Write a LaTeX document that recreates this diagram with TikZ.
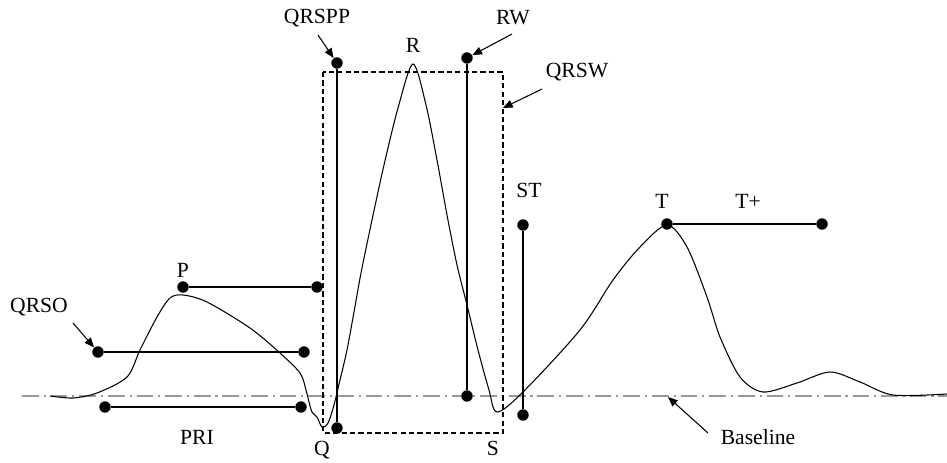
\documentclass[tikz,border=0pt]{standalone}
\usepackage{fontspec}
\setmainfont{Liberation Serif}
\usetikzlibrary{arrows.meta,positioning}

\begin{document}
\begin{tikzpicture}[x=0.02cm, y=-0.02cm, >={Triangle[length=5.5pt,width=4.5pt]},
    font=\fontsize{12.3}{14}\selectfont,
    dot/.style={circle, fill, inner sep=0pt, minimum size=6.5pt},
    seg/.style={line width=0.85pt},
    pointer/.style={->, line width=0.6pt},
    lbl/.style={inner sep=1pt}]
  \useasboundingbox (0,0) rectangle (947,463);

  % 基线
  \coordinate (bl0) at (22,396);
  \coordinate (bl1) at (947,396);
  \draw[gray!80, line width=0.7pt, dash pattern=on 9.5pt off 2.8pt on 1.2pt off 2.8pt] (bl0) -- (bl1);

  % QRS 框
  \draw[line width=0.6pt, dash pattern=on 3pt off 1.8pt] (323,72) rectangle (503,433);

  % 心电波形
  \draw[line width=0.6pt] plot[smooth, tension=0.5] coordinates {
    (50,396) (73,398) (97,393) (127,377) (140,350) (157,317) (170,298) (183,295)
    (207,302) (250,328) (280,353) (300,373) (306,390) (309,402) (312,412) (317,417)
    (322,427) (328,423) (334,405) (340,380) (347,350) (354,312) (361,273)
    (372,220) (384,165) (398,108) (413,64) (426,105) (437,160) (447,215)
    (457,265) (467,305) (478,350) (489,390) (497,412)
    (523,392) (580,330) (613,280) (640,247) (667,225) (687,247) (707,297)
    (720,337) (740,377) (763,392) (797,383) (830,372) (860,382) (893,395) (947,394)};

  % P 与 P-R
  \node[dot] (p1) at (183,287) {};
  \node[dot] (p2) at (317,287) {};
  \draw[seg] (p1) -- (p2);
  \node[lbl] (plbl) at (183,270) {P};

  \node[dot] (o1) at (98,352) {};
  \node[dot] (o2) at (304,352) {};
  \draw[seg] (o1) -- (o2);
  \node[lbl] (olbl) at (39,307) {QRSO};
  \coordinate (oarr) at (73,323);
  \draw[pointer] (oarr) -- (o1);

  \node[dot] (r1) at (105,407) {};
  \node[dot] (r2) at (301,407) {};
  \draw[seg] (r1) -- (r2);
  \node[lbl] (prilbl) at (197,437) {PRI};

  % QRS
  \node[dot] (q1) at (337,63) {};
  \node[dot] (q2) at (337,428) {};
  \draw[seg] (q1) -- (q2);
  \node[lbl] (qrspplbl) at (317,18) {QRSPP};
  \coordinate (qarr) at (318,35);
  \draw[pointer] (qarr) -- (q1);

  \node[dot] (w1) at (467,58) {};
  \node[dot] (w2) at (467,396) {};
  \draw[seg] (w1) -- (w2);
  \node[lbl] (rwlbl) at (513,18) {RW};
  \coordinate (warr) at (512,34);
  \draw[pointer] (warr) -- (w1);

  \node[lbl] (qrswlbl) at (577,72) {QRSW};
  \coordinate (qrswarr) at (542,89);
  \coordinate (qrswtip) at (503,108);
  \draw[pointer] (qrswarr) -- (qrswtip);

  \node[lbl] (rlbl) at (413,45) {R};
  \node[lbl] (qlbl) at (322,450) {Q};
  \node[lbl] (slbl) at (493,448) {S};

  % ST 与 T
  \node[dot] (s1) at (523,225) {};
  \node[dot] (s2) at (523,415) {};
  \draw[seg] (s1) -- (s2);
  \node[lbl] (stlbl) at (529,190) {ST};

  \node[dot] (t1) at (667,224) {};
  \node[dot] (t2) at (822,224) {};
  \draw[seg] (t1) -- (t2);
  \node[lbl] (tlbl) at (662,201) {T};
  \node[lbl] (tplbl) at (748,201) {T+};

  % 基线标注
  \node[lbl] (baselbl) at (758,437) {Baseline};
  \coordinate (barr) at (708,433);
  \coordinate (btip) at (668,397);
  \draw[pointer] (barr) -- (btip);
\end{tikzpicture}
\end{document}
